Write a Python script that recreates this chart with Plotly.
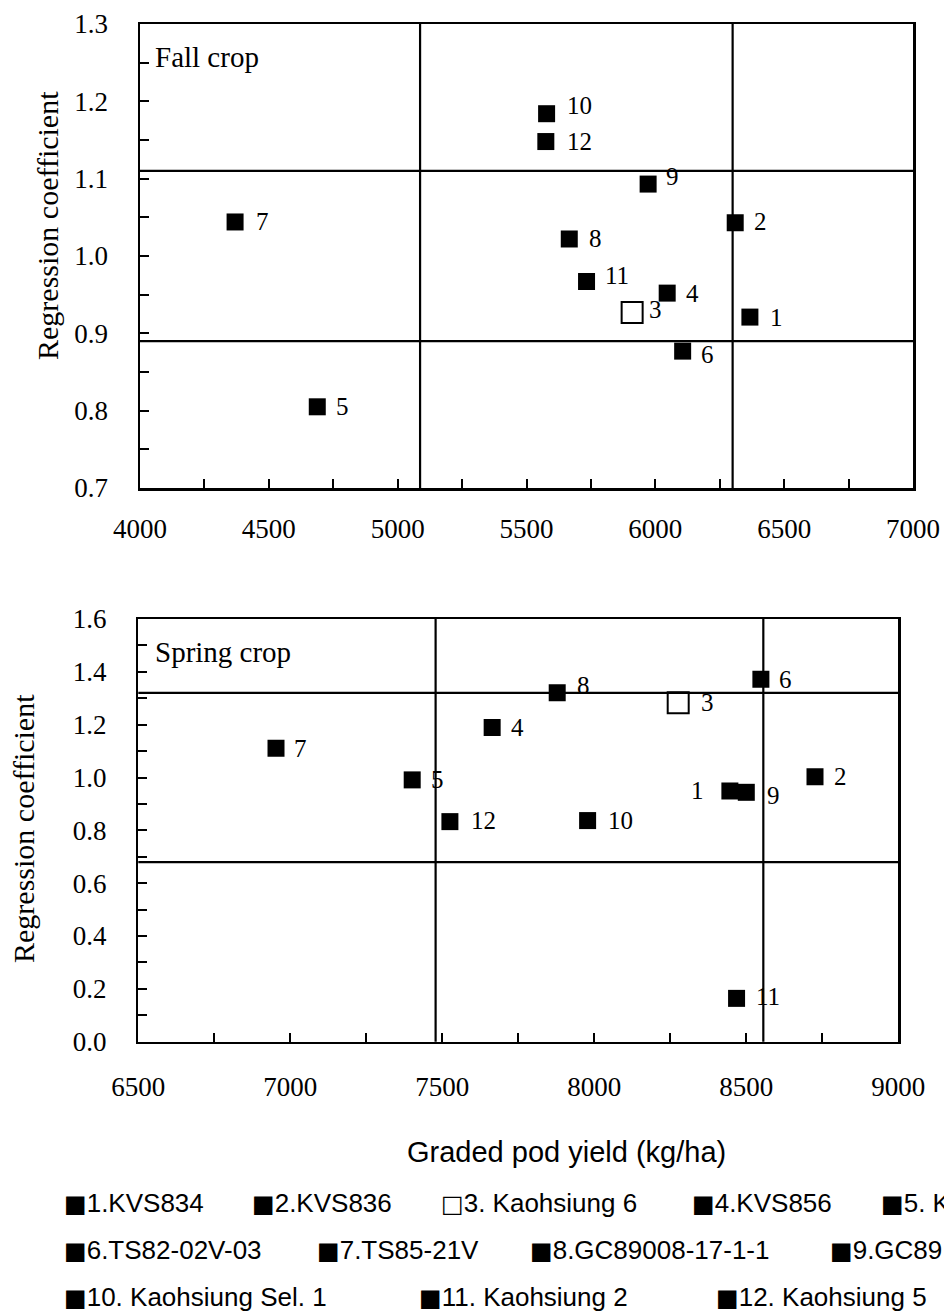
import plotly.graph_objects as go

W, H = 944, 1313

# ---------------- data ----------------
genotype_ids = ["1", "2", "3", "4", "5", "6", "7", "8", "9", "10", "11", "12"]
check_id = "3"

fall_yield = [6367, 6310, 5910, 6046, 4688, 6106, 4369, 5666, 5972, 5578, 5733, 5575]
fall_b = [0.921, 1.043, 0.927, 0.952, 0.805, 0.877, 1.044, 1.022, 1.093, 1.184, 0.967, 1.148]

spring_yield = [8446, 8726, 8276, 7664, 7401, 8548, 6953, 7878, 8500, 7978, 8468, 7525]
spring_b = [0.949, 1.003, 1.283, 1.189, 0.991, 1.372, 1.111, 1.321, 0.944, 0.837, 0.164, 0.833]

fall_yield_lines = [5087, 6300]
fall_b_lines = [0.89, 1.11]
spring_yield_lines = [7478, 8556]
spring_b_lines = [0.68, 1.32]

fall_x_range = [4000, 7000]
fall_y_range = [0.7, 1.3]
spring_x_range = [6500, 9000]
spring_y_range = [0.0, 1.6]

panel_titles = ["Fall crop", "Spring crop"]
y_title = "Regression coefficient"
x_title = "Graded pod yield (kg/ha)"

legend_rows = [
    [("■", "1.KVS834"), ("■", "2.KVS836"), ("□", "3. Kaohsiung 6"), ("■", "4.KVS856"), ("■", "5. K")],
    [("■", "6.TS82-02V-03"), ("■", "7.TS85-21V"), ("■", "8.GC89008-17-1-1"), ("■", "9.GC89")],
    [("■", "10. Kaohsiung Sel. 1"), ("■", "11. Kaohsiung 2"), ("■", "12. Kaohsiung 5")],
]

# ---------------- styling / layout helpers ----------------
SERIF = "Liberation Serif, Times New Roman, serif"
SANS = "Liberation Sans, Arial, sans-serif"


def px(x):
    return x / W


def py(y):
    return 1 - y / H


# label offsets in pixels (dx from marker centre to label edge, dy downwards)
fall_label_off = {"1": (19, 0), "2": (18, -1), "3": (16, -3), "4": (18, 0), "5": (18, 0),
                  "6": (17, 3), "7": (20, 0), "8": (19, 0), "9": (17, -8), "10": (19, -8),
                  "11": (17, -6), "12": (20, 0)}
spring_label_off = {"1": (-25, 0), "2": (18, 0), "3": (22, 0), "4": (18, 0), "5": (18, 0),
                    "6": (17, 0), "7": (17, 0), "8": (19, -7), "9": (20, 3), "10": (19, 0),
                    "11": (18, -2), "12": (20, -1)}

fig = go.Figure()


def add_points(xs, ys, xa, ya):
    filled = [(x, y) for g, x, y in zip(genotype_ids, xs, ys) if g != check_id]
    opened = [(x, y) for g, x, y in zip(genotype_ids, xs, ys) if g == check_id]
    fig.add_trace(go.Scatter(
        x=[p[0] for p in filled], y=[p[1] for p in filled], mode="markers",
        xaxis=xa, yaxis=ya, showlegend=False, hoverinfo="skip",
        marker=dict(symbol="square", size=17, color="#000000", opacity=1,
                    line=dict(width=0))))
    fig.add_trace(go.Scatter(
        x=[p[0] for p in opened], y=[p[1] for p in opened], mode="markers",
        xaxis=xa, yaxis=ya, showlegend=False, hoverinfo="skip",
        marker=dict(symbol="square", size=21, color="#ffffff", opacity=1,
                    line=dict(color="#000000", width=2))))


add_points(fall_yield, fall_b, "x", "y")
add_points(spring_yield, spring_b, "x2", "y2")

annotations = []


def add_labels(xs, ys, offs, xref, yref):
    for g, xv, yv in zip(genotype_ids, xs, ys):
        dx, dy = offs[g]
        annotations.append(dict(
            x=xv, y=yv, xref=xref, yref=yref, text=g, showarrow=False,
            xanchor="left" if dx > 0 else "right", yanchor="middle",
            xshift=dx, yshift=-dy, borderpad=0,
            font=dict(family=SERIF, size=25, color="black")))


add_labels(fall_yield, fall_b, fall_label_off, "x", "y")
add_labels(spring_yield, spring_b, spring_label_off, "x2", "y2")

shapes = []


def add_quadrant_lines(xlines, ylines, xref, yref):
    for v in xlines:
        shapes.append(dict(type="line", xref=xref, yref=yref + " domain",
                           x0=v, x1=v, y0=0, y1=1,
                           line=dict(color="black", width=2.2)))
    for v in ylines:
        shapes.append(dict(type="line", xref=xref + " domain", yref=yref,
                           x0=0, x1=1, y0=v, y1=v,
                           line=dict(color="black", width=2.2)))


add_quadrant_lines(fall_yield_lines, fall_b_lines, "x", "y")
add_quadrant_lines(spring_yield_lines, spring_b_lines, "x2", "y2")

# panel titles
annotations.append(dict(x=px(153), y=py(57), xref="paper", yref="paper", text=panel_titles[0],
                        showarrow=False, xanchor="left", yanchor="middle",
                        font=dict(family=SERIF, size=29, color="black")))
annotations.append(dict(x=px(153), y=py(652), xref="paper", yref="paper", text=panel_titles[1],
                        showarrow=False, xanchor="left", yanchor="middle",
                        font=dict(family=SERIF, size=29, color="black")))

# y titles
annotations.append(dict(x=px(48), y=py(226), xref="paper", yref="paper", text=y_title,
                        showarrow=False, textangle=-90, xanchor="center", yanchor="middle",
                        font=dict(family=SERIF, size=30, color="black")))
annotations.append(dict(x=px(23), y=py(829), xref="paper", yref="paper", text=y_title,
                        showarrow=False, textangle=-90, xanchor="center", yanchor="middle",
                        font=dict(family=SERIF, size=30, color="black")))

# x title
annotations.append(dict(x=px(566), y=py(1152), xref="paper", yref="paper", text=x_title,
                        showarrow=False, xanchor="center", yanchor="middle",
                        font=dict(family=SANS, size=29, color="black")))

# legend rows
legend_x = [[62, 250, 439, 690, 879], [62, 315, 528, 828], [62, 417, 714]]
legend_y = [1203, 1250, 1297]
for row, xs_row, yrow in zip(legend_rows, legend_x, legend_y):
    for (glyph, label), xl in zip(row, xs_row):
        txt = ('<span style="font-family:DejaVu Sans;font-size:24px">' + glyph + '</span>'
               + label)
        annotations.append(dict(x=px(xl), y=py(yrow), xref="paper", yref="paper", text=txt,
                                showarrow=False, xanchor="left", yanchor="middle",
                                font=dict(family=SANS, size=26, color="black")))


def axis_style(rng, dtick, minor_dtick, fmt, domain, anchor, standoff):
    return dict(range=rng, dtick=dtick, tick0=rng[0], tickformat=fmt, domain=domain,
                anchor=anchor, showgrid=False, zeroline=False, automargin=False,
                showline=True, linecolor="black", linewidth=2.5, mirror=True,
                ticks="inside", ticklen=9, tickwidth=2, tickcolor="black",
                minor=dict(dtick=minor_dtick, tick0=rng[0], ticks="inside", ticklen=9,
                           tickwidth=2, tickcolor="black", showgrid=False),
                tickfont=dict(family=SERIF, size=27, color="black"),
                ticklabelstandoff=standoff, fixedrange=True)


fig.update_layout(
    width=W, height=H, margin=dict(l=0, r=0, t=0, b=0, autoexpand=False),
    paper_bgcolor="white", plot_bgcolor="white", showlegend=False,
    xaxis=axis_style(fall_x_range, 500, 250, "d", [px(140), px(913)], "y", 15),
    yaxis=axis_style(fall_y_range, 0.1, 0.05, ".1f", [py(488), py(24)], "x", 24),
    xaxis2=axis_style(spring_x_range, 500, 250, "d", [px(138.3), px(898.3)], "y2", 19),
    yaxis2=axis_style(spring_y_range, 0.2, 0.1, ".1f", [py(1041.7), py(619)], "x2", 24),
    annotations=annotations, shapes=shapes,
)

# remove the default page margin so the figure fills the window exactly
fig.write_html("out.html",
               config={"displayModeBar": False, "staticPlot": True},
               post_script="document.body.style.margin='0';"
                           "document.body.style.overflow='hidden';")
